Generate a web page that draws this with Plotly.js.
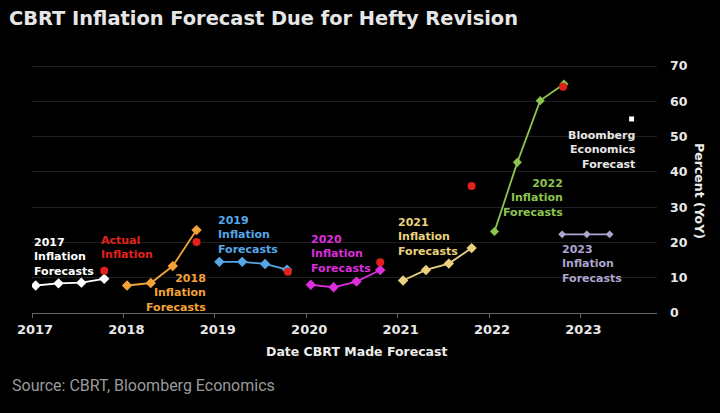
<!DOCTYPE html>
<html>
<head>
<meta charset="utf-8">
<script src="https://cdn.plot.ly/plotly-3.0.1.min.js"></script>
<style>
  html, body { margin: 0; padding: 0; background: #000; }
  #chart { width: 720px; height: 413px; }
</style>
</head>
<body>
<div id="chart"></div>
<script>
// Forecast dates (fractional year) and forecast values (% YoY)
const f2017x = [2017.04, 2017.29, 2017.54, 2017.79];
const f2017y = [7.8, 8.4, 8.6, 9.7];
const f2018x = [2018.04, 2018.30, 2018.54, 2018.80];
const f2018y = [7.8, 8.5, 13.3, 23.5];
const f2019x = [2019.05, 2019.30, 2019.55, 2019.79];
const f2019y = [14.5, 14.5, 13.9, 12.3];
const f2020x = [2020.05, 2020.30, 2020.55, 2020.81];
const f2020y = [8.0, 7.3, 8.9, 12.2];
const f2021x = [2021.06, 2021.31, 2021.56, 2021.81];
const f2021y = [9.2, 12.2, 14.0, 18.4];
const f2022x = [2022.06, 2022.31, 2022.56, 2022.82];
const f2022y = [23.1, 42.7, 60.2, 64.9];
const f2023x = [2022.80, 2023.07, 2023.32];
const f2023y = [22.3, 22.3, 22.3];
// Actual inflation (year-end)
const actualX = [2017.79, 2018.80, 2019.80, 2020.81, 2021.81, 2022.81];
const actualY = [12.0, 20.1, 11.7, 14.4, 36.0, 64.1];
// Bloomberg Economics forecast
const bbgX = [2023.56];
const bbgY = [55.0];

const tickYears = [2017, 2018, 2019, 2020, 2021, 2022, 2023];
const tickYearLabels = ['2017', '2018', '2019', '2020', '2021', '2022', '2023'];
const yTicks = [0, 10, 20, 30, 40, 50, 60, 70];

const colors = {
  f2017: '#ffffff', f2018: '#f2a336', f2019: '#55a7e6', f2020: '#dc2edc',
  f2021: '#e8d27e', f2022: '#8cc44e', f2023: '#ada4cf', actual: '#e3211c', bbg: '#ffffff'
};

function series(x, y, color, msize) {
  return {
    x: x, y: y, type: 'scatter', mode: 'lines+markers',
    line: {color: color, width: 1.8},
    marker: {symbol: 'diamond', size: msize, color: color},
    hoverinfo: 'skip', showlegend: false
  };
}

const data = [
  series(f2017x, f2017y, colors.f2017, 8),
  series(f2018x, f2018y, colors.f2018, 8),
  series(f2019x, f2019y, colors.f2019, 8),
  series(f2020x, f2020y, colors.f2020, 8),
  series(f2021x, f2021y, colors.f2021, 8),
  series(f2022x, f2022y, colors.f2022, 7),
  series(f2023x, f2023y, colors.f2023, 6),
  {x: actualX, y: actualY, type: 'scatter', mode: 'markers',
   marker: {symbol: 'circle', size: 8, color: colors.actual},
   hoverinfo: 'skip', showlegend: false},
  {x: bbgX, y: bbgY, type: 'scatter', mode: 'markers',
   marker: {symbol: 'square', size: 5, color: colors.bbg},
   hoverinfo: 'skip', showlegend: false}
];

const lblFont = (c) => ({family: 'DejaVu Sans', size: 11, color: c, weight: 'bold'});
function lbl(text, x, y, color, anchor) {
  return {text: text, x: x, y: y, xref: 'x', yref: 'y', xanchor: anchor, yanchor: 'middle',
          align: anchor, showarrow: false, borderpad: 0, font: lblFont(color)};
}

const annotations = [
  lbl('<b>2017<br>Inflation<br>Forecasts</b>', 2017.01, 15.96, colors.f2017, 'left'),
  lbl('<b>Actual<br>Inflation</b>', 2017.74, 18.5, colors.actual, 'left'),
  lbl('<b>2018<br>Inflation<br>Forecasts</b>', 2018.91, 5.58, colors.f2018, 'right'),
  lbl('<b>2019<br>Inflation<br>Forecasts</b>', 2019.02, 22.25, colors.f2019, 'left'),
  lbl('<b>2020<br>Inflation<br>Forecasts</b>', 2020.04, 16.8, colors.f2020, 'left'),
  lbl('<b>2021<br>Inflation<br>Forecasts</b>', 2020.99, 21.54, colors.f2021, 'left'),
  lbl('<b>2022<br>Inflation<br>Forecasts</b>', 2022.82, 32.5, colors.f2022, 'right'),
  lbl('<b>Bloomberg<br>Economics<br>Forecast</b>', 2023.62, 46.26, '#e6e6e6', 'right'),
  lbl('<b>2023<br>Inflation<br>Forecasts</b>', 2022.79, 13.9, colors.f2023, 'left'),
  {text: '<b>Date CBRT Made Forecast</b>', xref: 'paper', yref: 'paper', x: 0.519, y: -0.152,
   xanchor: 'center', yanchor: 'middle', showarrow: false,
   font: {family: 'DejaVu Sans', size: 12.5, color: '#ececec'}},
  {text: '<b>Percent (YoY)</b>', xref: 'paper', yref: 'paper', x: 1.0688, y: 0.48,
   xanchor: 'center', yanchor: 'middle', showarrow: false, textangle: 90,
   font: {family: 'DejaVu Sans', size: 12.5, color: '#ececec'}},
  {text: 'Source: CBRT, Bloomberg Economics', xref: 'paper', yref: 'paper', x: -0.0352, y: -0.287,
   xanchor: 'left', yanchor: 'middle', showarrow: false,
   font: {family: 'Roboto', size: 16, color: '#9a9a9a'}}
];

const layout = {
  width: 720, height: 413,
  paper_bgcolor: '#000000', plot_bgcolor: '#000000',
  margin: {l: 32, r: 63, t: 59, b: 100},
  title: {
    text: '<b>CBRT Inflation Forecast Due for Hefty Revision</b>',
    xref: 'container', yref: 'container', x: 9/720, y: 1 - 18/413,
    xanchor: 'left', yanchor: 'middle',
    font: {family: 'DejaVu Sans', size: 19.4, color: '#e6e6e6'}
  },
  xaxis: {
    range: [2017, 2023.838], tickvals: tickYears, ticktext: tickYearLabels,
    showgrid: false, zeroline: false, showline: true, linecolor: '#666666', linewidth: 1,
    ticks: 'outside', ticklen: 4, tickcolor: '#666666', ticklabelshift: 3,
    tickfont: {family: 'DejaVu Sans', size: 13, color: '#e8e8e8', weight: 'bold'},
    fixedrange: true
  },
  yaxis: {
    side: 'right', range: [0, 72], tickvals: yTicks,
    showgrid: true, gridcolor: '#1f1f1f', gridwidth: 1, zeroline: false, showline: false,
    ticks: '', ticklabelstandoff: 12,
    tickfont: {family: 'DejaVu Sans', size: 12.5, color: '#e8e8e8', weight: 'bold'},
    fixedrange: true
  },
  annotations: annotations,
  showlegend: false, hovermode: false
};

Plotly.newPlot('chart', data, layout, {displayModeBar: false, staticPlot: true});
</script>
</body>
</html>
